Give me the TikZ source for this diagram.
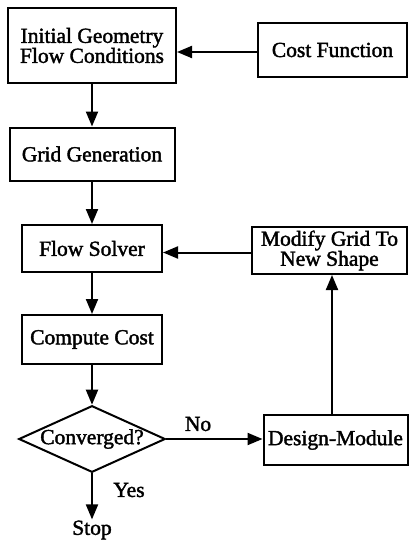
\documentclass[tikz,border=0pt]{standalone}
\usepackage{fontspec}
\setmainfont{Liberation Serif}[RawFeature={embolden=1.8}]
\usetikzlibrary{arrows.meta,shapes.geometric}
\begin{document}
\begin{tikzpicture}[x=1pt,y=-1pt,
  font=\fontsize{21.5}{20}\selectfont,
  box/.style={draw,line width=2pt,inner sep=0pt,align=center},
  arr/.style={line width=2pt,-{Triangle[length=15pt,width=12pt]}},
  lbl/.style={inner sep=1pt}]
\useasboundingbox (0,0) rectangle (409,542);
\node[box,minimum width=168pt,minimum height=75pt] (init) at (92,45.5) {Initial Geometry\\Flow Conditions};
\node[box,minimum width=149pt,minimum height=54pt] (cost) at (332.5,50) {Cost Function};
\node[box,minimum width=165pt,minimum height=53pt] (grid) at (92,154) {Grid Generation};
\node[box,minimum width=140pt,minimum height=47pt] (flow) at (92,248.5) {Flow Solver};
\node[box,minimum width=155pt,minimum height=47pt] (modify) at (329.5,250.5) {Modify Grid To\\New Shape};
\node[box,minimum width=140pt,minimum height=49pt] (compute) at (92,339.5) {Compute Cost};
\node[draw,line width=2pt,shape=diamond,aspect=2.2,inner sep=0pt,minimum width=141pt,minimum height=64pt] (conv) at (92,439) {Converged?};
\node[box,minimum width=144pt,minimum height=50pt] (design) at (335.5,440) {Design-Module};
\node[lbl] (no) at (198,424) {No};
\node[lbl] (yes) at (129,490) {Yes};
\node[lbl] (stop) at (92,530) {Stop};
\draw[arr] ([yshift=-2pt]cost.west) -- ([yshift=-2pt]cost.west -| init.east);
\draw[arr] (init.south) -- (grid.north);
\draw[arr] (grid.south) -- (flow.north);
\draw[arr] ([yshift=-2pt]modify.west) -- ([yshift=-2pt]modify.west -| flow.east);
\draw[arr] (flow.south) -- (compute.north);
\draw[arr] (compute.south) -- (conv.north);
\draw[arr] (conv.east) -- (conv.east -| design.west);
\draw[arr] ([xshift=-3.5pt]design.north) -- ([xshift=-3.5pt]design.north |- modify.south);
\draw[arr] (conv.south) -- (stop.north);
\end{tikzpicture}
\end{document}
